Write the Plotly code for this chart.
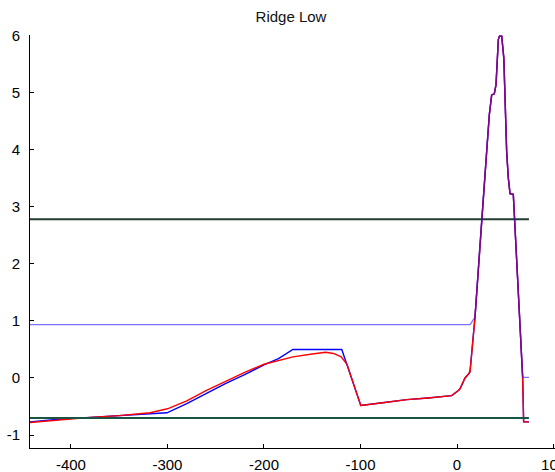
import plotly.graph_objects as go

# ---- data ----
left_x_blue = [-442.4, -410, -380, -350, -320, -300.5, -280, -260, -240, -220, -200, -185, -178, -170, -119.4]
left_y_blue = [-0.77, -0.72, -0.69, -0.66, -0.64, -0.61, -0.45, -0.27, -0.10, 0.06, 0.23, 0.34, 0.42, 0.50, 0.50]

left_x_red = [-442.4, -410, -380, -350, -335, -318, -300, -280, -260, -240, -220, -200, -185, -170, -150, -136, -128, -120, -114]
left_y_red = [-0.78, -0.73, -0.69, -0.66, -0.64, -0.61, -0.54, -0.40, -0.22, -0.06, 0.10, 0.24, 0.31, 0.37, 0.42, 0.45, 0.43, 0.37, 0.24]

mid_x = [-99.7, -75, -52, -30, -5.5, 1.4, 3.1, 8.3, 12.4]
mid_y = [-0.48, -0.43, -0.38, -0.35, -0.31, -0.22, -0.19, 0.0, 0.08]

step_blue = 0.13
step_red = 0.10
step_x = 13.5

peak_x = [18.6, 25.6, 27.3, 30.7, 33.5, 35.9, 38.6, 40.4, 42.8, 44.0, 46.3, 48.5, 51.4, 53.1, 54.9, 58.3, 68.0]
peak_y = [1.06, 2.77, 3.22, 3.98, 4.62, 4.96, 4.98, 5.14, 5.93, 5.99, 5.99, 5.60, 3.98, 3.51, 3.23, 3.22, 0.01]

end_x = [69.0, 74.5]
end_y = [-0.77, -0.77]

band_level = 0.935
band_end_x = 74.5
band_end_y = 0.01

upper_level = 2.78
lower_level = -0.70
h_x = [-442.4, 74.5]

x_ticks = [-400, -300, -200, -100, 0, 100]
y_ticks = [-1, 0, 1, 2, 3, 4, 5, 6]

# ---- build series ----
blue_x = left_x_blue + mid_x + [step_x] + peak_x + end_x
blue_y = left_y_blue + mid_y + [step_blue] + peak_y + end_y
red_x = left_x_red + mid_x + [step_x] + peak_x + end_x
red_y = left_y_red + mid_y + [step_red] + peak_y + end_y
band_x = [h_x[0], step_x] + peak_x + [band_end_x]
band_y = [band_level, band_level] + peak_y + [band_end_y]

fig = go.Figure()
fig.add_trace(go.Scatter(x=blue_x, y=blue_y, mode="lines",
                         line=dict(color="#0000ff", width=1.4)))
fig.add_trace(go.Scatter(x=red_x, y=red_y, mode="lines",
                         line=dict(color="#ff0000", width=1.4)))
fig.add_trace(go.Scatter(x=h_x, y=[upper_level, upper_level], mode="lines",
                         line=dict(color="#243b30", width=2)))
fig.add_trace(go.Scatter(x=h_x, y=[lower_level, lower_level], mode="lines",
                         line=dict(color="#1c5444", width=2)))
fig.add_trace(go.Scatter(x=band_x, y=band_y, mode="lines",
                         line=dict(color="rgba(30,10,255,0.58)", width=1.4)))

font = dict(family="Liberation Sans, Arial, sans-serif", size=15, color="#000000")

fig.update_layout(
    width=555, height=472, autosize=False,
    margin=dict(l=30, r=0, t=34.5, b=24.3, pad=0),
    paper_bgcolor="white", plot_bgcolor="white",
    showlegend=False,
    font=font,
    title=dict(text="Ridge Low", x=291 / 555, xref="container", xanchor="center",
               y=1 - 17 / 472, yref="container", yanchor="middle", automargin=False,
               font=dict(family="Liberation Sans, Arial, sans-serif", size=15, color="#111111")),
)
fig.update_xaxes(range=[-442.4, 101.5], tickvals=x_ticks, ticktext=[str(v) for v in x_ticks],
                 ticks="inside", ticklen=4, tickcolor="#000", showline=True, linecolor="#000",
                 linewidth=1, showgrid=False, zeroline=False, ticklabeloverflow="allow",
                 ticklabelstandoff=3, tickfont=font, automargin=False)
fig.update_yaxes(range=[-1.227, 6.01], tickvals=y_ticks, ticktext=[str(v) for v in y_ticks],
                 ticks="inside", ticklen=4, tickcolor="#000", showline=True, linecolor="#000",
                 linewidth=1, showgrid=False, zeroline=False,
                 ticklabelstandoff=6, tickfont=font, automargin=False)

fig.write_html("out.html", config={"displayModeBar": False},
               post_script="document.body.style.margin='0px';document.body.style.overflow='hidden';")
